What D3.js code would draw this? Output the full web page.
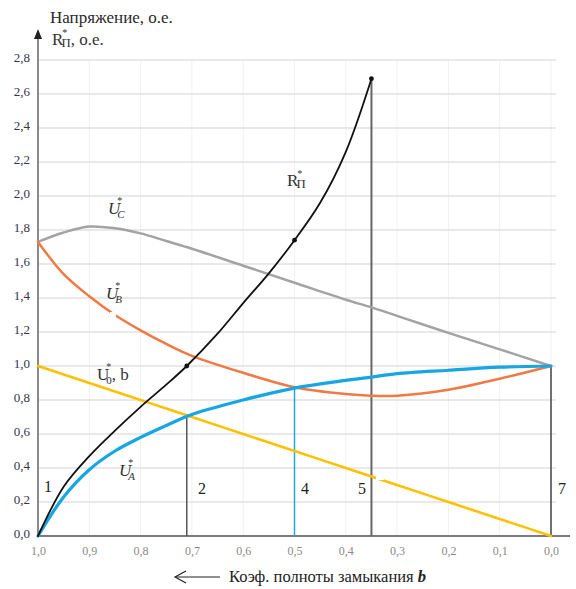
<!DOCTYPE html>
<html>
<head>
<meta charset="utf-8">
<script src="https://cdn.jsdelivr.net/npm/d3@7/dist/d3.min.js"></script>
</head>
<body style="margin:0">
<svg id="chart" width="576" height="589"></svg>
<script>
// Closing-completeness coefficient b (x) and the per-unit curves
const bGrid   = [1.0, 0.95, 0.9, 0.85, 0.8, 0.75, 0.7, 0.6, 0.5, 0.4, 0.35, 0.3, 0.2, 0.1, 0.0];
const uC      = [1.73, 1.785, 1.82, 1.81, 1.78, 1.735, 1.69, 1.59, 1.49, 1.39, 1.345, 1.295, 1.195, 1.098, 1.0];
const uB      = [1.73, 1.54, 1.41, 1.30, 1.21, 1.13, 1.06, 0.96, 0.875, 0.835, 0.825, 0.825, 0.86, 0.925, 1.0];
const uA      = [0.0, 0.23, 0.39, 0.50, 0.58, 0.65, 0.715, 0.80, 0.87, 0.915, 0.935, 0.955, 0.975, 0.993, 1.0];
const u0      = [1.0, 0.95, 0.9, 0.85, 0.8, 0.75, 0.7, 0.6, 0.5, 0.4, 0.35, 0.3, 0.2, 0.1, 0.0];

// Fault resistance R*П, defined up to b = 0.35
const bR      = [1.0, 0.95, 0.9, 0.85, 0.8, 0.75, 0.71, 0.65, 0.6, 0.55, 0.5, 0.45, 0.4, 0.35];
const rP      = [0.0, 0.29, 0.47, 0.62, 0.76, 0.89, 1.0, 1.19, 1.37, 1.545, 1.74, 1.96, 2.26, 2.69];
const rMarks  = [0.71, 0.5, 0.35];

// Marked operating points: vertical drop lines
const dropB   = [0.71, 0.5, 0.35, 0.0];
const dropTop = [0.71, 0.87, 2.69, 1.0];
const dropNum = ["2", "4", "5", "7"];

const xTicks  = [1.0, 0.9, 0.8, 0.7, 0.6, 0.5, 0.4, 0.3, 0.2, 0.1, 0.0];
const yTicks  = [0.0, 0.2, 0.4, 0.6, 0.8, 1.0, 1.2, 1.4, 1.6, 1.8, 2.0, 2.2, 2.4, 2.6, 2.8];

const FONT = '"Liberation Serif", monospace';

const svg = d3.select("#chart");
const x = d3.scaleLinear().domain([1, 0]).range([38, 551]);
const y = d3.scaleLinear().domain([0, 2.8]).range([536, 60]);
const fmt = v => d3.format(".1f")(v).replace(".", ",");

// serif text with its size set as an inline style
function face(sel, size) {
  return sel.style("font-family", FONT).style("font-size", size + "px");
}

// grid
const grid = svg.append("g");
grid.selectAll("line.v").data(xTicks.slice(1)).join("line")
  .attr("x1", d => x(d)).attr("x2", d => x(d))
  .attr("y1", y(2.8)).attr("y2", y(0))
  .attr("stroke", "#f1f1f1").attr("stroke-width", 1);
grid.selectAll("line.h").data(yTicks.slice(1)).join("line")
  .attr("x1", x(1)).attr("x2", 556)
  .attr("y1", d => y(d)).attr("y2", d => y(d))
  .attr("stroke", "#e2e2e2").attr("stroke-width", 1.5);

// tick labels from d3 axes (axis lines drawn separately)
const yAxis = d3.axisLeft(y).tickValues(yTicks).tickFormat(fmt).tickSize(0).tickPadding(8);
const yg = svg.append("g").attr("transform", `translate(${x(1)},0)`).call(yAxis);
yg.select(".domain").remove();
face(yg.selectAll("text"), 13).attr("fill", "#34344a").attr("dy", "0.15em");

const xAxis = d3.axisBottom(x).tickValues(xTicks).tickFormat(fmt).tickSize(0).tickPadding(10);
const xg = svg.append("g").attr("transform", `translate(0,${y(0)})`).call(xAxis);
xg.select(".domain").remove();
face(xg.selectAll("text"), 12).attr("fill", "#8a8a8a");

svg.append("line").attr("x1", x(1)).attr("x2", 570).attr("y1", y(0)).attr("y2", y(0))
  .attr("stroke", "#7a7a7a").attr("stroke-width", 2);
svg.append("line").attr("x1", x(1)).attr("x2", x(1)).attr("y1", y(0)).attr("y2", 36)
  .attr("stroke", "#8a8a8a").attr("stroke-width", 2);
svg.append("path").attr("d", `M${x(1)},29 L${x(1) - 4},39 L${x(1) + 4},39 Z`).attr("fill", "#222");

// drop lines
const dropColor = ["#555", "#1aa9e2", "#666", "#444"];
svg.append("g").selectAll("line").data(dropB).join("line")
  .attr("x1", d => x(d)).attr("x2", d => x(d))
  .attr("y1", (d, i) => y(dropTop[i])).attr("y2", y(0))
  .attr("stroke", (d, i) => dropColor[i]).attr("stroke-width", (d, i) => i === 2 ? 2 : 1.5);

// curves
const line = d3.line().curve(d3.curveCatmullRom.alpha(0.5));
function draw(bs, vs, color, w) {
  svg.append("path")
    .attr("d", line(bs.map((b, i) => [x(b), y(vs[i])])))
    .attr("fill", "none").attr("stroke", color).attr("stroke-width", w)
    .attr("stroke-linecap", "round");
}
draw(bGrid, uC, "#a3a3a3", 2.5);
draw(bGrid, uB, "#f07a43", 2.5);
draw(bGrid, u0, "#ffc000", 2.5);
draw(bGrid, uA, "#15a6e3", 3.2);
draw(bR, rP, "#111", 1.8);

// markers on R*П
svg.append("g").selectAll("circle").data(rMarks).join("circle")
  .attr("cx", d => x(d)).attr("cy", d => y(rP[bR.indexOf(d)]))
  .attr("r", 2.4).attr("fill", "#111");

// small white breaks where label boxes sit over the lines
svg.append("rect").attr("x", 110).attr("y", 312).attr("width", 6).attr("height", 8).attr("fill", "#fff");
svg.append("rect").attr("x", 376).attr("y", 472).attr("width", 8).attr("height", 8).attr("fill", "#fff");

// drop-line numbers
face(svg.append("text"), 16).attr("x", 48).attr("y", 492).attr("text-anchor", "middle")
  .attr("fill", "#222").text("1");
face(svg.selectAll("text.num").data(dropNum).join("text").attr("class", "num"), 16)
  .attr("x", (d, i) => [202, 305, 362, 562][i]).attr("y", 494)
  .attr("text-anchor", "middle").attr("fill", "#222").text(d => d);

// curve labels
function uLabel(px, py, sub, italic, extra) {
  const t = face(svg.append("text"), 17).attr("x", px).attr("y", py).attr("fill", "#333");
  t.append("tspan").style("font-style", italic ? "italic" : "normal").text("U");
  t.append("tspan").style("font-size", "10px").attr("dx", -3).attr("dy", -10).text("*");
  t.append("tspan").style("font-size", "11px").style("font-style", italic ? "italic" : "normal")
    .attr("dx", -5).attr("dy", 14).text(sub);
  if (extra) t.append("tspan").attr("dy", -4).text(extra);
}
uLabel(108, 214, "C", true);
uLabel(106, 299, "B", true);
uLabel(97, 380, "0", false, ", b");
uLabel(119, 476, "A", true);

function rLabel(px, py, size, tail) {
  const t = face(svg.append("text"), size).attr("x", px).attr("y", py).attr("fill", "#333");
  t.append("tspan").text("R");
  t.append("tspan").style("font-size", (size * 0.6) + "px").attr("dx", -1).attr("dy", -9).text("*");
  t.append("tspan").style("font-size", (size * 0.75) + "px").attr("dx", -6).attr("dy", 11).text("П");
  if (tail) t.append("tspan").attr("dy", -2).text(tail);
}
rLabel(287, 186, 17);

// axis titles
face(svg.append("text"), 17).attr("x", 50).attr("y", 23).attr("fill", "#2a2a2a")
  .text("Напряжение, о.е.");
rLabel(52, 45, 17, ", о.е.");

// bottom caption with arrow
svg.append("line").attr("x1", 176).attr("x2", 220).attr("y1", 577).attr("y2", 577)
  .attr("stroke", "#222").attr("stroke-width", 1.2);
svg.append("path").attr("d", "M186,571 L175,577 L186,583").attr("fill", "none")
  .attr("stroke", "#222").attr("stroke-width", 1.2);
const cap = face(svg.append("text"), 16.5).attr("x", 229).attr("y", 582).attr("fill", "#222");
cap.append("tspan").text("Коэф. полноты замыкания ");
cap.append("tspan").style("font-style", "italic").style("font-weight", "bold").text("b");
</script>
</body>
</html>
